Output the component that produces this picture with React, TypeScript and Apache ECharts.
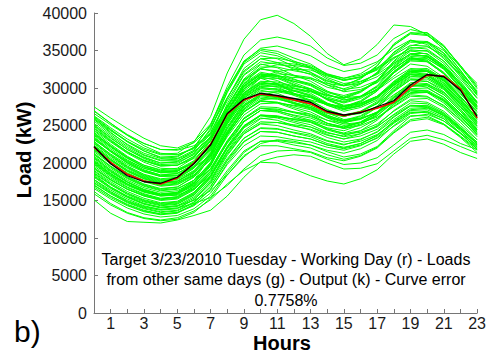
import React, { useEffect, useRef } from "react";
import * as echarts from "echarts";

// Hour positions on the x axis (24 hourly samples)
const HOURS = [0, 1, 2, 3, 4, 5, 6, 7, 8, 9, 10, 11, 12, 13, 14, 15, 16, 17, 18, 19, 20, 21, 22, 23];

// Target day load (red) and forecast output (black), kW
const TARGET = [22100, 20100, 18500, 17600, 17200, 18000, 20000, 22500, 26500, 28400, 29200, 28900, 28400, 27900, 26800, 26300, 26800, 27300, 28100, 30100, 31700, 31600, 29900, 26000];
const OUTPUT = [22200, 19900, 18300, 17500, 17300, 18100, 19900, 22400, 26600, 28500, 29300, 29000, 28600, 28100, 26900, 26400, 26700, 27500, 28300, 30400, 31800, 31500, 29700, 26200];

// Loads of the other same (working) days, kW
const SIMILAR_DAYS: number[][] = [
  [27500, 26000, 24600, 23300, 22300, 22000, 22900, 25200, 29800, 33500, 35300, 35600, 35000, 34300, 33000, 32200, 32600, 33500, 35200, 36400, 35800, 33900, 31600, 29200],
  [26900, 25300, 23700, 22300, 21300, 21100, 22000, 24100, 28300, 31800, 33500, 33200, 32700, 32100, 31000, 30400, 31200, 32900, 35900, 37400, 37100, 35200, 32300, 29600],
  [26200, 24500, 22900, 21600, 20700, 20600, 21700, 24400, 29400, 33200, 34700, 34300, 33400, 32600, 31200, 30300, 30600, 31500, 33100, 34600, 34200, 32600, 30500, 28100],
  [25600, 23800, 22200, 21000, 20300, 20300, 21300, 23500, 27600, 30900, 32500, 32300, 31600, 31200, 30100, 29600, 30500, 32100, 34800, 36300, 36000, 34300, 31500, 28700],
  [25100, 23400, 21800, 20600, 19800, 19900, 21200, 24000, 28700, 32300, 33900, 33400, 32500, 31800, 30400, 29500, 29800, 30700, 32500, 34100, 33700, 32000, 29800, 27500],
  [24600, 22900, 21400, 20300, 19600, 19700, 20900, 23200, 27100, 30300, 31900, 31700, 31100, 30600, 29400, 28800, 29600, 31000, 33500, 35100, 34900, 33300, 30600, 27900],
  [24300, 22500, 20900, 19700, 19000, 19100, 20300, 22900, 27400, 31100, 32600, 32100, 31200, 30400, 29200, 28400, 28800, 29800, 31600, 33200, 32900, 31400, 29200, 26900],
  [23900, 22200, 20700, 19500, 18800, 18900, 20000, 22300, 26300, 29400, 30900, 30800, 30300, 29900, 28800, 28200, 28900, 30300, 32800, 34400, 34300, 32700, 30100, 27400],
  [23500, 21700, 20200, 19100, 18400, 18600, 19900, 22600, 27000, 30500, 31900, 31500, 30500, 29700, 28400, 27500, 27900, 28900, 30600, 32100, 31800, 30400, 28300, 26100],
  [23200, 21500, 20000, 18900, 18200, 18300, 19500, 21800, 25700, 28800, 30300, 30200, 29600, 29000, 27900, 27300, 28100, 29600, 32000, 33600, 33500, 31900, 29300, 26700],
  [22900, 21100, 19600, 18500, 17900, 18100, 19400, 22000, 26100, 29300, 30700, 30400, 29600, 28900, 27700, 26900, 27400, 28400, 30300, 31900, 31700, 30200, 28000, 25800],
  [22400, 20700, 19300, 18200, 17600, 17800, 19000, 21300, 25200, 28300, 29900, 29700, 29200, 28700, 27700, 27100, 27600, 28700, 30800, 32500, 32600, 31200, 28800, 26300],
  [22100, 20400, 18900, 17900, 17300, 17500, 18800, 21400, 25500, 28700, 30100, 29800, 29000, 28300, 27100, 26400, 26900, 27900, 29600, 31100, 30900, 29500, 27400, 25300],
  [21700, 20000, 18600, 17600, 17000, 17200, 18400, 20800, 24600, 27600, 29000, 28900, 28300, 27800, 26800, 26200, 26800, 28000, 30000, 31600, 31600, 30200, 27900, 25400],
  [21300, 19600, 18200, 17200, 16600, 16800, 18100, 20600, 24700, 27800, 29200, 28900, 28100, 27400, 26200, 25500, 25900, 26800, 28400, 29800, 29600, 28200, 26200, 24100],
  [20900, 19300, 17900, 16900, 16300, 16500, 17700, 20000, 23800, 26800, 28200, 28100, 27600, 27100, 26100, 25600, 26200, 27400, 29500, 31100, 31200, 29900, 27600, 25000],
  [20600, 18900, 17500, 16500, 15900, 16100, 17400, 19800, 23800, 26900, 28300, 28000, 27200, 26500, 25300, 24600, 25000, 25900, 27600, 29100, 28900, 27600, 25700, 23700],
  [20200, 18600, 17200, 16200, 15600, 15800, 17000, 19300, 23000, 25900, 27300, 27200, 26700, 26200, 25300, 24800, 25500, 26700, 28800, 30300, 30400, 29100, 26900, 24400],
  [19800, 18200, 16800, 15900, 15300, 15500, 16800, 19100, 22900, 25900, 27300, 27000, 26300, 25700, 24600, 23900, 24300, 25200, 26900, 28300, 28100, 26900, 25000, 23100],
  [19400, 17800, 16500, 15600, 15000, 15200, 16400, 18600, 22200, 25000, 26400, 26300, 25800, 25400, 24500, 24000, 24700, 25900, 27900, 29400, 29500, 28300, 26200, 23800],
  [19000, 17500, 16200, 15300, 14700, 14900, 16100, 18400, 22100, 24900, 26300, 26000, 25400, 24800, 23800, 23200, 23600, 24500, 26200, 27600, 27500, 26300, 24500, 22600],
  [18600, 17100, 15800, 14900, 14400, 14600, 15800, 17900, 21400, 24100, 25500, 25400, 24900, 24500, 23700, 23200, 23900, 25000, 27000, 28500, 28600, 27400, 25400, 23100],
  [18200, 16700, 15500, 14600, 14100, 14300, 15500, 17700, 21200, 23900, 25200, 25000, 24400, 23900, 23000, 22500, 22900, 23800, 25400, 26800, 26700, 25600, 23900, 22100],
  [17800, 16400, 15200, 14300, 13800, 14000, 15100, 17200, 20600, 23300, 24600, 24500, 24100, 23700, 22900, 22400, 23100, 24200, 26100, 27600, 27700, 26600, 24700, 22500],
  [17400, 16000, 14800, 14000, 13500, 13700, 14800, 16900, 20300, 22900, 24200, 24100, 23600, 23200, 22400, 21900, 22400, 23300, 24900, 26300, 26300, 25200, 23500, 21700],
  [17000, 15600, 14500, 13700, 13200, 13400, 14500, 16500, 19800, 22300, 23600, 23500, 23100, 22800, 22100, 21700, 22300, 23400, 25300, 26700, 26900, 25900, 24000, 21900],
  [26000, 24100, 22400, 21100, 20400, 20500, 21500, 23400, 27000, 29900, 31500, 31600, 31400, 31300, 30600, 30300, 31300, 33000, 35700, 37300, 37400, 35700, 32800, 29900],
  [24000, 22300, 20800, 19700, 19100, 19300, 20700, 23600, 28600, 32600, 34300, 33900, 32900, 32100, 30700, 29800, 30100, 31000, 32700, 34000, 33500, 31900, 29500, 27100],
  [22700, 21000, 19500, 18400, 17800, 18000, 19300, 22100, 26800, 30600, 32100, 31700, 30700, 29900, 28500, 27600, 27900, 28800, 30400, 31800, 31400, 30000, 27800, 25600],
  [21100, 19500, 18100, 17100, 16500, 16800, 18200, 21000, 25400, 29000, 30500, 30100, 29200, 28400, 27100, 26300, 26600, 27500, 29100, 30500, 30100, 28700, 26600, 24500],
  [20000, 18400, 17100, 16200, 15700, 15900, 17200, 19700, 23900, 27300, 28800, 28600, 27900, 27400, 26300, 25700, 26300, 27600, 29800, 31500, 31700, 30400, 28100, 25500],
  [18900, 17300, 16000, 15100, 14600, 14800, 16000, 18200, 21900, 24800, 26300, 26200, 25800, 25500, 24700, 24300, 25100, 26500, 28700, 30300, 30500, 29300, 27100, 24500],
  [25300, 23600, 22000, 20800, 20000, 20100, 21100, 23300, 27500, 31000, 32800, 32800, 32300, 31900, 30900, 30300, 30800, 31900, 33900, 35400, 35200, 33600, 31200, 28600],
  [23700, 21900, 20400, 19300, 18700, 18900, 20100, 22500, 26500, 29600, 31300, 31300, 30900, 30500, 29500, 29000, 29600, 30800, 32900, 34600, 34600, 33000, 30400, 27700],
  [22300, 20500, 19000, 18000, 17400, 17600, 18900, 21200, 25200, 28400, 30000, 29900, 29300, 28800, 27800, 27300, 27800, 28900, 30900, 32400, 32200, 30700, 28300, 25900],
  [21500, 19900, 18500, 17500, 16900, 17100, 18300, 20500, 24200, 27100, 28600, 28500, 28000, 27600, 26700, 26200, 26800, 28000, 30100, 31800, 31900, 30600, 28300, 25800],
  [20400, 18800, 17400, 16400, 15800, 16000, 17300, 19700, 23700, 26800, 28300, 28100, 27400, 26800, 25700, 25000, 25400, 26300, 28100, 29600, 29400, 28000, 26000, 23900],
  [19600, 18000, 16700, 15800, 15200, 15400, 16600, 18900, 22700, 25600, 27000, 26900, 26400, 26000, 25100, 24600, 25200, 26300, 28300, 29900, 30000, 28800, 26600, 24100],
  [18700, 17200, 15900, 15000, 14500, 14700, 15900, 18200, 22000, 24900, 26400, 26200, 25600, 25100, 24100, 23500, 23900, 24800, 26500, 28000, 27900, 26700, 24800, 22800],
  [24900, 23100, 21500, 20300, 19600, 19700, 20800, 23000, 27000, 30200, 31800, 31600, 30900, 30300, 29100, 28400, 28900, 30100, 32100, 33800, 33600, 32100, 29700, 27200],
  [26300, 24700, 23200, 22000, 21200, 21300, 22800, 26200, 32000, 36500, 39100, 39700, 38600, 36900, 34600, 33100, 33900, 35800, 38400, 38200, 37100, 35200, 32800, 30600],
  [25800, 24000, 22500, 21300, 20600, 20800, 22100, 25100, 30200, 34400, 36400, 36800, 36300, 35600, 34000, 33000, 33300, 34400, 36600, 37800, 37300, 35500, 33000, 30300],
  [15100, 13300, 12200, 12100, 12000, 12400, 13000, 13700, 15600, 18100, 20200, 20800, 21100, 20900, 20000, 19200, 19300, 19900, 21600, 23300, 23700, 23100, 22200, 21300],
  [16200, 14600, 13400, 12700, 12400, 12700, 13600, 15100, 17200, 19000, 20100, 20000, 19200, 18300, 17600, 17200, 17900, 19100, 21200, 22900, 23200, 22500, 21400, 20600],
  [17800, 16200, 15000, 14200, 13800, 14000, 14600, 15400, 17000, 19200, 21000, 21600, 21700, 21400, 20500, 19800, 20000, 20700, 22400, 24100, 24400, 23800, 22600, 21800],
  [18500, 16800, 15500, 14600, 14100, 14300, 15000, 16300, 18400, 20800, 22600, 23100, 22900, 22400, 21500, 20800, 21200, 22200, 24300, 26200, 26500, 25600, 24000, 22400],
  [16600, 15200, 14000, 13200, 12800, 13000, 13900, 15600, 18700, 21400, 22900, 22900, 22400, 22000, 21100, 20500, 21000, 22100, 24100, 25800, 26100, 25200, 23600, 21900],
  [24400, 22800, 21300, 20100, 19300, 19200, 19900, 21700, 25400, 29100, 31400, 32200, 32500, 32400, 31600, 31000, 31500, 32600, 34100, 35000, 34500, 33000, 30700, 28200],
  [20800, 19000, 17500, 16400, 15800, 16100, 17700, 20900, 26000, 29900, 31300, 30600, 29300, 28200, 26700, 25800, 26000, 26700, 28000, 29300, 29400, 28400, 26500, 24300],
  [23100, 21600, 20300, 19300, 18700, 18700, 19400, 21000, 24100, 27200, 29000, 29500, 29600, 29600, 29000, 28700, 29500, 31000, 33600, 35600, 36200, 35000, 32400, 29300],
  [19200, 17700, 16500, 15700, 15200, 15500, 16900, 19600, 24000, 27500, 29000, 28700, 27900, 27200, 26000, 25200, 25400, 26100, 27500, 28900, 28800, 27700, 25800, 23500],
  [26600, 25100, 23700, 22600, 21800, 21700, 22300, 23900, 27300, 30600, 32600, 33100, 33000, 32700, 31700, 31100, 31500, 32400, 34000, 35300, 35500, 34400, 32100, 29500],
  [22600, 20900, 19400, 18300, 17700, 17900, 19300, 22000, 26600, 30100, 31500, 31000, 30000, 29300, 28000, 27200, 27600, 28600, 30500, 32200, 32400, 31300, 28900, 26400],
  [17600, 16100, 14900, 14100, 13700, 13900, 15100, 17500, 21600, 24700, 26000, 25700, 25000, 24400, 23400, 22800, 23200, 24100, 25800, 27300, 27400, 26400, 24600, 22500],
  [21900, 20300, 18900, 17900, 17300, 17400, 18400, 20400, 23800, 26800, 28400, 28700, 28600, 28400, 27800, 27500, 28300, 29800, 32200, 33900, 34100, 32900, 30300, 27500],
  [25000, 23300, 21800, 20700, 20000, 20200, 21600, 24600, 29500, 33400, 35000, 34600, 33600, 32800, 31400, 30600, 30900, 31800, 33300, 34500, 34200, 32800, 30500, 28000],
  [20300, 18600, 17200, 16200, 15700, 15900, 17100, 19200, 22600, 25500, 27000, 27100, 26800, 26500, 25700, 25300, 26000, 27400, 29700, 31300, 31400, 30100, 27800, 25200],
  [23800, 22100, 20600, 19500, 18900, 19000, 20000, 22100, 25800, 28900, 30500, 30600, 30200, 29900, 29000, 28600, 29400, 30900, 33300, 34900, 35000, 33600, 30900, 28100],
  [18300, 16800, 15600, 14800, 14300, 14500, 15700, 18100, 22200, 25500, 27000, 26800, 26100, 25500, 24400, 23800, 24100, 24900, 26400, 27700, 27600, 26500, 24700, 22700],
  [21200, 19500, 18000, 17000, 16400, 16600, 17700, 19900, 23500, 26400, 27900, 28000, 27700, 27400, 26600, 26200, 26900, 28200, 30400, 32000, 32200, 31000, 28600, 26000],
  [27000, 25300, 23800, 22600, 21800, 21800, 22700, 24800, 28700, 32100, 33900, 34000, 33500, 33000, 31900, 31300, 31700, 32700, 34400, 35700, 35600, 34100, 31800, 29100],
  [19900, 18300, 17000, 16100, 15600, 15700, 16600, 18300, 21500, 24300, 25900, 26100, 25900, 25700, 25000, 24700, 25400, 26700, 29000, 30700, 30900, 29800, 27500, 24900],
  [24100, 22300, 20700, 19500, 18800, 18900, 20200, 23000, 27900, 31700, 33200, 32700, 31700, 30900, 29600, 28700, 28900, 29700, 31300, 32600, 32400, 31000, 28800, 26500],
  [16800, 15400, 14300, 13500, 13100, 13300, 14400, 16500, 20000, 22800, 24200, 24100, 23600, 23200, 22400, 22000, 22600, 23700, 25600, 27100, 27300, 26300, 24400, 22200],
  [22800, 21200, 19800, 18800, 18200, 18300, 19400, 21600, 25400, 28600, 30200, 30300, 29900, 29500, 28600, 28100, 28800, 30200, 32500, 34200, 34300, 33000, 30400, 27600],
  [20700, 19100, 17700, 16700, 16100, 16300, 17500, 20100, 24600, 28200, 29700, 29300, 28400, 27600, 26400, 25600, 25900, 26700, 28300, 29700, 29700, 28500, 26500, 24300],
  [25900, 24300, 22900, 21800, 21100, 21100, 21900, 23800, 27600, 31200, 33100, 33400, 33200, 32800, 31800, 31300, 31900, 33300, 35700, 37200, 37000, 35600, 33000, 30100],
  [18100, 16600, 15400, 14500, 14000, 14200, 15300, 17400, 21000, 23900, 25300, 25400, 25100, 24800, 24000, 23600, 24300, 25700, 27800, 29300, 29500, 28400, 26300, 23900],
  [23400, 21600, 20100, 19000, 18400, 18600, 19800, 22400, 26900, 30300, 31700, 31300, 30400, 29700, 28500, 27700, 28000, 28900, 30700, 32300, 32300, 31100, 28800, 26400],
  [21800, 20100, 18700, 17700, 17100, 17300, 18600, 21200, 25700, 29300, 30800, 30500, 29700, 29100, 27900, 27200, 27700, 28700, 30600, 32200, 32200, 30900, 28500, 26000],
  [19300, 17800, 16500, 15600, 15100, 15300, 16500, 18800, 22800, 26000, 27500, 27400, 26800, 26300, 25300, 24800, 25400, 26600, 28600, 30200, 30300, 29100, 26900, 24400],
  [24700, 23000, 21500, 20400, 19700, 19700, 20600, 22600, 26400, 29800, 31600, 31900, 31700, 31400, 30400, 29900, 30600, 32000, 34500, 36100, 36100, 34600, 31900, 29000],
  [17300, 15900, 14700, 13900, 13400, 13600, 14700, 16800, 20400, 23300, 24700, 24600, 24000, 23500, 22600, 22100, 22600, 23600, 25500, 27000, 27100, 26100, 24300, 22200],
  [22200, 20500, 19100, 18100, 17500, 17600, 18700, 21000, 24900, 28000, 29500, 29500, 29100, 28800, 27900, 27500, 28200, 29600, 32000, 33700, 33900, 32600, 30000, 27200],
  [26100, 24400, 22800, 21600, 20800, 20900, 22100, 25000, 29800, 33600, 35200, 34900, 34000, 33200, 31800, 31000, 31400, 32500, 34700, 36300, 36200, 34700, 32100, 29400],
  [20100, 18500, 17200, 16300, 15800, 16000, 17300, 19900, 24300, 27700, 29100, 28800, 28000, 27300, 26100, 25400, 25800, 26800, 28800, 30500, 30600, 29400, 27200, 24700],
  [23300, 21500, 20000, 18900, 18300, 18400, 19600, 21900, 25900, 29100, 30600, 30500, 30000, 29600, 28600, 28000, 28600, 29900, 32200, 33900, 33900, 32500, 29900, 27200],
  [17100, 15600, 14400, 13600, 13200, 13400, 14300, 16000, 19000, 21600, 22900, 23000, 22700, 22400, 21700, 21300, 21900, 23000, 25000, 26600, 26800, 25900, 24000, 21900],
  [15900, 14400, 13300, 12600, 12300, 12500, 13400, 15300, 18400, 21000, 22300, 22300, 21900, 21500, 20700, 20300, 20900, 22000, 24000, 25600, 25900, 25100, 23400, 21400],
];

// Caption drawn inside the plot area
const CAPTION = [
  "Target 3/23/2010 Tuesday - Working Day (r) - Loads",
  "from other same days (g) - Output (k) - Curve error",
  "0.7758%",
];

const FONT = "Arial, 'Liberation Sans', Helvetica, sans-serif";
const AXIS_GRAY = "#767676";
const TEXT = "#1a1a1a";

const toPoints = (vals: number[]) => vals.map((v, i) => [HOURS[i], v]);

export default function App() {
  const ref = useRef<HTMLDivElement>(null);

  useEffect(() => {
    if (!ref.current) return;
    const chart = echarts.init(ref.current, null, { renderer: "svg" });

    const greenSeries = SIMILAR_DAYS.map((day, k) => ({
      type: "line" as const,
      name: `day${k}`,
      data: toPoints(day),
      showSymbol: false,
      symbol: "none",
      lineStyle: { color: "#00ff00", width: 1 },
      silent: true,
      z: 2,
    }));

    chart.setOption({
      animation: false,
      grid: { left: 94, right: 6, top: 13, bottom: 41 },
      xAxis: {
        type: "value",
        min: 0,
        max: 23,
        interval: 1,
        axisLine: { show: true, lineStyle: { color: AXIS_GRAY, width: 1 } },
        axisTick: { show: true, inside: true, length: 4, lineStyle: { color: AXIS_GRAY } },
        axisLabel: {
          margin: 2,
          fontFamily: FONT,
          fontSize: 16,
          color: TEXT,
          showMinLabel: true,
          showMaxLabel: true,
          formatter: (v: number) => (v % 2 === 1 ? String(v) : ""),
        },
        splitLine: { show: false },
      },
      yAxis: {
        type: "value",
        min: 0,
        max: 40000,
        interval: 5000,
        axisLine: { show: true, lineStyle: { color: AXIS_GRAY, width: 1 } },
        axisTick: { show: true, inside: true, length: 4, lineStyle: { color: AXIS_GRAY } },
        axisLabel: {
          margin: 7,
          fontFamily: FONT,
          fontSize: 16,
          color: TEXT,
          formatter: (v: number) => String(v),
        },
        splitLine: { show: false },
      },
      series: [
        ...greenSeries,
        {
          type: "line",
          name: "Target",
          data: toPoints(TARGET),
          symbol: "none",
          lineStyle: { color: "#ff0000", width: 1.5 },
          z: 3,
        },
        {
          type: "line",
          name: "Output",
          data: toPoints(OUTPUT),
          symbol: "none",
          lineStyle: { color: "#000000", width: 1.3 },
          z: 4,
        },
      ],
      graphic: [
        ...CAPTION.map((line, i) => ({
          type: "text",
          x: 286,
          y: 259 + i * 20.5,
          z: 10,
          style: {
            text: line,
            fontFamily: FONT,
            fontSize: 16,
            fill: "#000",
            align: "center",
            verticalAlign: "middle",
          },
        })),
        {
          type: "text",
          x: 282,
          y: 343,
          style: {
            text: "Hours",
            fontFamily: FONT,
            fontSize: 20,
            fontWeight: "bold",
            fill: "#000",
            align: "center",
            verticalAlign: "middle",
          },
        },
        {
          type: "text",
          x: 24,
          y: 150,
          rotation: Math.PI / 2,
          style: {
            text: "Load (kW)",
            fontFamily: FONT,
            fontSize: 20,
            fontWeight: "bold",
            fill: "#000",
            align: "center",
            verticalAlign: "middle",
          },
        },
        {
          type: "text",
          x: 14,
          y: 331,
          style: {
            text: "b)",
            fontFamily: FONT,
            fontSize: 30,
            fill: "#000",
            align: "left",
            verticalAlign: "middle",
          },
        },
      ],
    });

    return () => chart.dispose();
  }, []);

  return (
    <div
      ref={ref}
      style={{ position: "fixed", left: 0, top: 0, width: 489, height: 354, background: "#fff" }}
    />
  );
}
